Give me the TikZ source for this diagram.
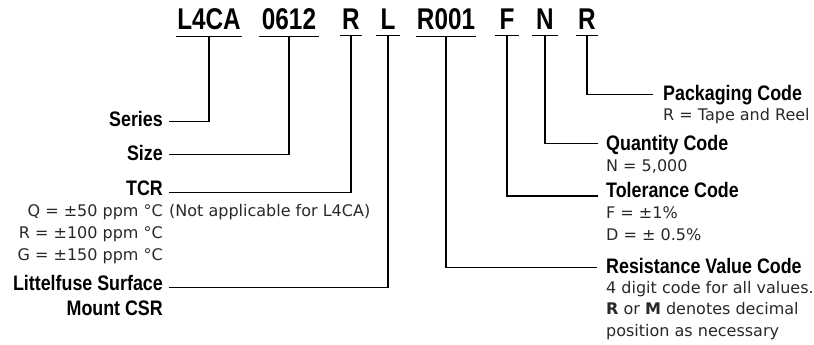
\documentclass[tikz,border=0pt]{standalone}
\usepackage{fontspec}
\setmainfont{DejaVu Sans}
\newfontfamily\codefont[FakeStretch=0.81]{Liberation Sans Bold}
\newfontfamily\labfont[FakeStretch=0.85]{Liberation Sans Bold}
\usetikzlibrary{positioning,calc}
\definecolor{noteGray}{RGB}{40,40,40}

\tikzset{
  code/.style={font=\codefont\fontsize{30}{30}\selectfont, inner xsep=0pt, inner ysep=5.7pt, anchor=base},
  title/.style={font=\labfont\fontsize{21}{22}\selectfont, inner sep=0pt},
  note/.style={font=\fontsize{16}{22}\selectfont, text=noteGray, inner sep=0pt},
  lead/.style={line width=1.2pt, black},
}

\begin{document}
\begin{tikzpicture}[x=1pt,y=-1pt]
  \useasboundingbox (0,0) rectangle (814,345);

  % Part number, each field underlined
  \foreach \txt/\x/\w [count=\i] in {L4CA/209/65, 0612/289/60, R/351/22, L/388/24, R001/446/59, F/507/23, N/545/25, R/587/21} {
    \node[code, minimum width=\w] (c\i) at (\x,30) {\txt};
    \draw[lead] (c\i.south west) -- (c\i.south east);
  }

  % Left side fields
  \node[title, anchor=base east] (ser) at (163,126.7) {Series};
  \node[title, anchor=base east] (siz) at (163,160.5) {Size};
  \node[title, anchor=base east] (tcr) at (163,195) {TCR};
  \node[note, anchor=base east] (tcrq) at (163,216) {Q = ±50 ppm °C};
  \node[note, anchor=base west] (tcrn) at (169,216) {(Not applicable for L4CA)};
  \node[note, anchor=base east] (tcrr) at (163,238) {R = ±100 ppm °C};
  \node[note, anchor=base east] (tcrg) at (163,260.5) {G = ±150 ppm °C};
  \node[title, anchor=base east] (csr) at (163,290) {Littelfuse Surface};
  \node[title, anchor=base east] (csrm) at (163,315) {Mount CSR};

  % Right side fields
  \node[title, anchor=base west] (pk) at (663,100.5) {Packaging Code};
  \node[note, anchor=base west] (pk1) at (663,120.5) {R = Tape and Reel};
  \node[title, anchor=base west] (qt) at (606,150) {Quantity Code};
  \node[note, anchor=base west] (qt1) at (606,171) {N = 5,000};
  \node[title, anchor=base west] (tl) at (606,197.5) {Tolerance Code};
  \node[note, anchor=base west] (tl1) at (606,218) {F = ±1\%};
  \node[note, anchor=base west] (tl2) at (606,240) {D = ± 0.5\%};
  \node[title, anchor=base west] (rv) at (606,273.3) {Resistance Value Code};
  \node[note, anchor=base west] (rv1) at (606,293.5) {4 digit code for all values.};
  \node[note, anchor=base west] (rv2) at (606,314.5) {\textbf{R} or \textbf{M} denotes decimal};
  \node[note, anchor=base west] (rv3) at (606,336) {position as necessary};

  % Leaders
  \draw[lead] (c1.south) |- ($(ser.base east)+(6,-5)$);
  \draw[lead] (c2.south) |- ($(siz.base east)+(6,-6)$);
  \draw[lead] (c3.south) |- ($(tcr.base east)+(6,-2.7)$);
  \draw[lead] (c4.south) |- ($(csr.base east)+(6,-2.3)$);
  \draw[lead] (c5.south) |- ($(rv.base west)+(-9,-6)$);
  \draw[lead] (c6.south) |- ($(tl.base west)+(-8,-1.5)$);
  \draw[lead] (c7.south) |- ($(qt.base west)+(-8,-6.7)$);
  \draw[lead] (c8.south) |- ($(pk.base west)+(-10,-6.2)$);
\end{tikzpicture}
\end{document}
